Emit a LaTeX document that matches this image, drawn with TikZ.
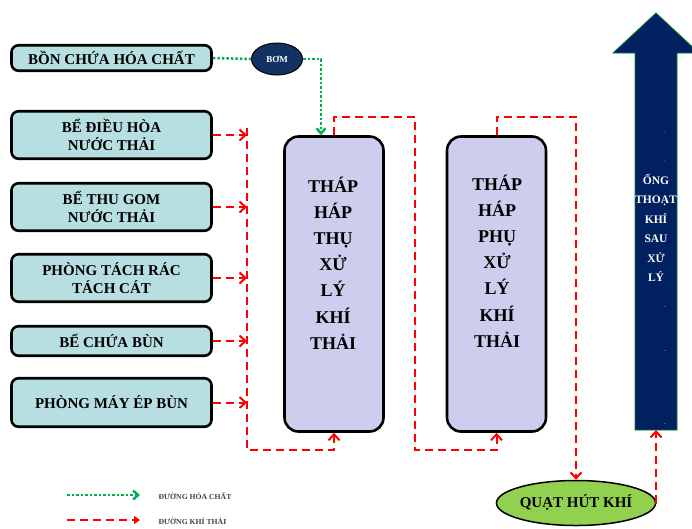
\documentclass[tikz,border=0pt]{standalone}
\usepackage{fontspec}
\setmainfont{Liberation Serif}
\usetikzlibrary{calc}
\usetikzlibrary{arrows.meta}
\usetikzlibrary{shapes.geometric}

\definecolor{boxteal}{RGB}{183,222,225}
\definecolor{towerlav}{RGB}{205,205,238}
\definecolor{bomnavy}{RGB}{18,50,98}
\definecolor{stacknavy}{RGB}{0,32,96}
\definecolor{fangreen}{RGB}{146,208,80}
\definecolor{chemgreen}{RGB}{0,176,80}

\begin{document}
\begin{tikzpicture}[x=1pt,y=-1pt,
	srcbox/.style={draw=black,line width=2.6pt,rounded corners=7pt,fill=boxteal,minimum width=200,align=center,font=\fontsize{15}{18}\selectfont\bfseries},
	tower/.style={draw=black,line width=2.6pt,rounded corners=14pt,fill=towerlav,minimum width=99,minimum height=295},
	towertxt/.style={align=center,font=\fontsize{18}{26.2}\selectfont\bfseries},
	redflow/.style={draw=red,line width=2pt,dash pattern=on 8pt off 5pt,-{Straight Barb[length=6pt,width=11pt]}},
	redline/.style={draw=red,line width=2pt,dash pattern=on 8pt off 5pt},
	chemflow/.style={draw=chemgreen,line width=2.5pt,dash pattern=on 2.5pt off 2pt}]
		\useasboundingbox (0,0) rectangle (692,528);

		% nguon khi thai
		\node[srcbox,minimum height=25.5] (bon) at (111.5,58) {BỒN CHỨA HÓA CHẤT};
		\node[srcbox,minimum height=47.5] (dieuhoa) at (111.5,135) {BỂ ĐIỀU HÒA\\NƯỚC THẢI};
		\node[srcbox,minimum height=47.5] (thugom) at (111.5,207) {BỂ THU GOM\\NƯỚC THẢI};
		\node[srcbox,minimum height=47.5] (tachrac) at (111.5,278) {PHÒNG TÁCH RÁC\\TÁCH CÁT};
		\node[srcbox,minimum height=29.5] (chuabun) at (111.5,341) {BỂ CHỨA BÙN};
		\node[srcbox,minimum height=48.5] (maybun) at (111.5,402.5) {PHÒNG MÁY ÉP BÙN};

		\node[ellipse,draw=black,line width=1pt,fill=bomnavy,minimum width=51,minimum height=32,inner sep=0pt,text=white,font=\fontsize{9}{10}\selectfont\bfseries] (bom) at (277,59) {\raisebox{-3pt}{BƠM}};

		% thap
		\node[tower] (t1) at (334,284) {};
		\node[towertxt] (t1txt) at (333,263) {THÁP\\HÁP\\THỤ\\XỬ\\LÝ\\KHÍ\\THẢI};
		\node[tower] (t2) at (496.5,284) {};
		\node[towertxt] (t2txt) at (497,261) {THÁP\\HÁP\\PHỤ\\XỬ\\LÝ\\KHÍ\\THẢI};

		\node[ellipse,draw=black,line width=1.5pt,fill=fangreen,minimum width=120,minimum height=45,inner sep=0pt,font=\fontsize{15}{18}\selectfont\bfseries] (fan) at (576,503) {QUẠT HÚT KHÍ};

		% ong thoat khi
		\draw[fill=stacknavy,draw=chemgreen!70!black,line width=0.8pt] (635,430) -- (635,53) -- (613,53) -- (656,13) -- (699,53) -- (677,53) -- (677,430) -- cycle;
		\coordinate (stackbot) at (656,430);
		\node[text=white,align=center,font=\fontsize{11.5}{19.5}\selectfont\bfseries] (stack) at (656,228) {ỐNG\\THOẠT\\KHÍ\\SAU\\XỬ\\LÝ};
		\node[text=white,font=\tiny] (dot1) at (665,132) {.};
		\node[text=white,font=\tiny] (dot2) at (665,161) {.};
		\node[text=white,font=\tiny] (dot3) at (665,308) {-};
		\node[text=white,font=\tiny] (dot4) at (665,352) {-};
		\node[text=white,font=\tiny] (dot5) at (665,425) {-};

		% duong hoa chat
		\draw[chemflow] (bon.east) -- (bom.west);
		\draw[chemflow,-{Straight Barb[length=5pt,width=9pt]}] (bom.east) -| ([xshift=-13pt]t1.north);

		% duong khi thai
		\coordinate (busTop) at (247,128);
		\coordinate (busBot) at (247,450);
		\foreach \s in {dieuhoa,thugom,tachrac,chuabun,maybun}
			\draw[redflow] (\s.east) -- (\s.east -| busTop);
		\draw[redflow] (busTop) -- (busBot) -| (t1.south);

		\coordinate (topA) at (415,117);
		\coordinate (botA) at (415,450);
		\draw[redflow] (t1.north) |- (topA) -- (botA) -| (t2.south);

		\coordinate (topB) at (576,117);
		\draw[redflow] (t2.north) |- (topB) -- (fan.north);
		\draw[redflow] (fan.east) -| (stackbot);

		% chu thich
		\coordinate (lgA) at (67,495);
		\coordinate (lgB) at (140,495);
		\coordinate (lgC) at (67,520);
		\coordinate (lgD) at (140,520);
		\draw[chemflow,-{Straight Barb[length=5pt,width=9pt]}] (lgA) -- (lgB);
		\draw[redline,-{Triangle[length=6pt,width=8pt]}] (lgC) -- (lgD);
		\node[anchor=west,text=black!75,font=\fontsize{7.7}{9}\selectfont\bfseries] (lgtxt1) at (155,496) {ĐƯỜNG HÓA CHẤT};
		\node[anchor=west,text=black!75,font=\fontsize{7.7}{9}\selectfont\bfseries] (lgtxt2) at (155,521) {ĐƯỜNG KHÍ THẢI};
\end{tikzpicture}
\end{document}
